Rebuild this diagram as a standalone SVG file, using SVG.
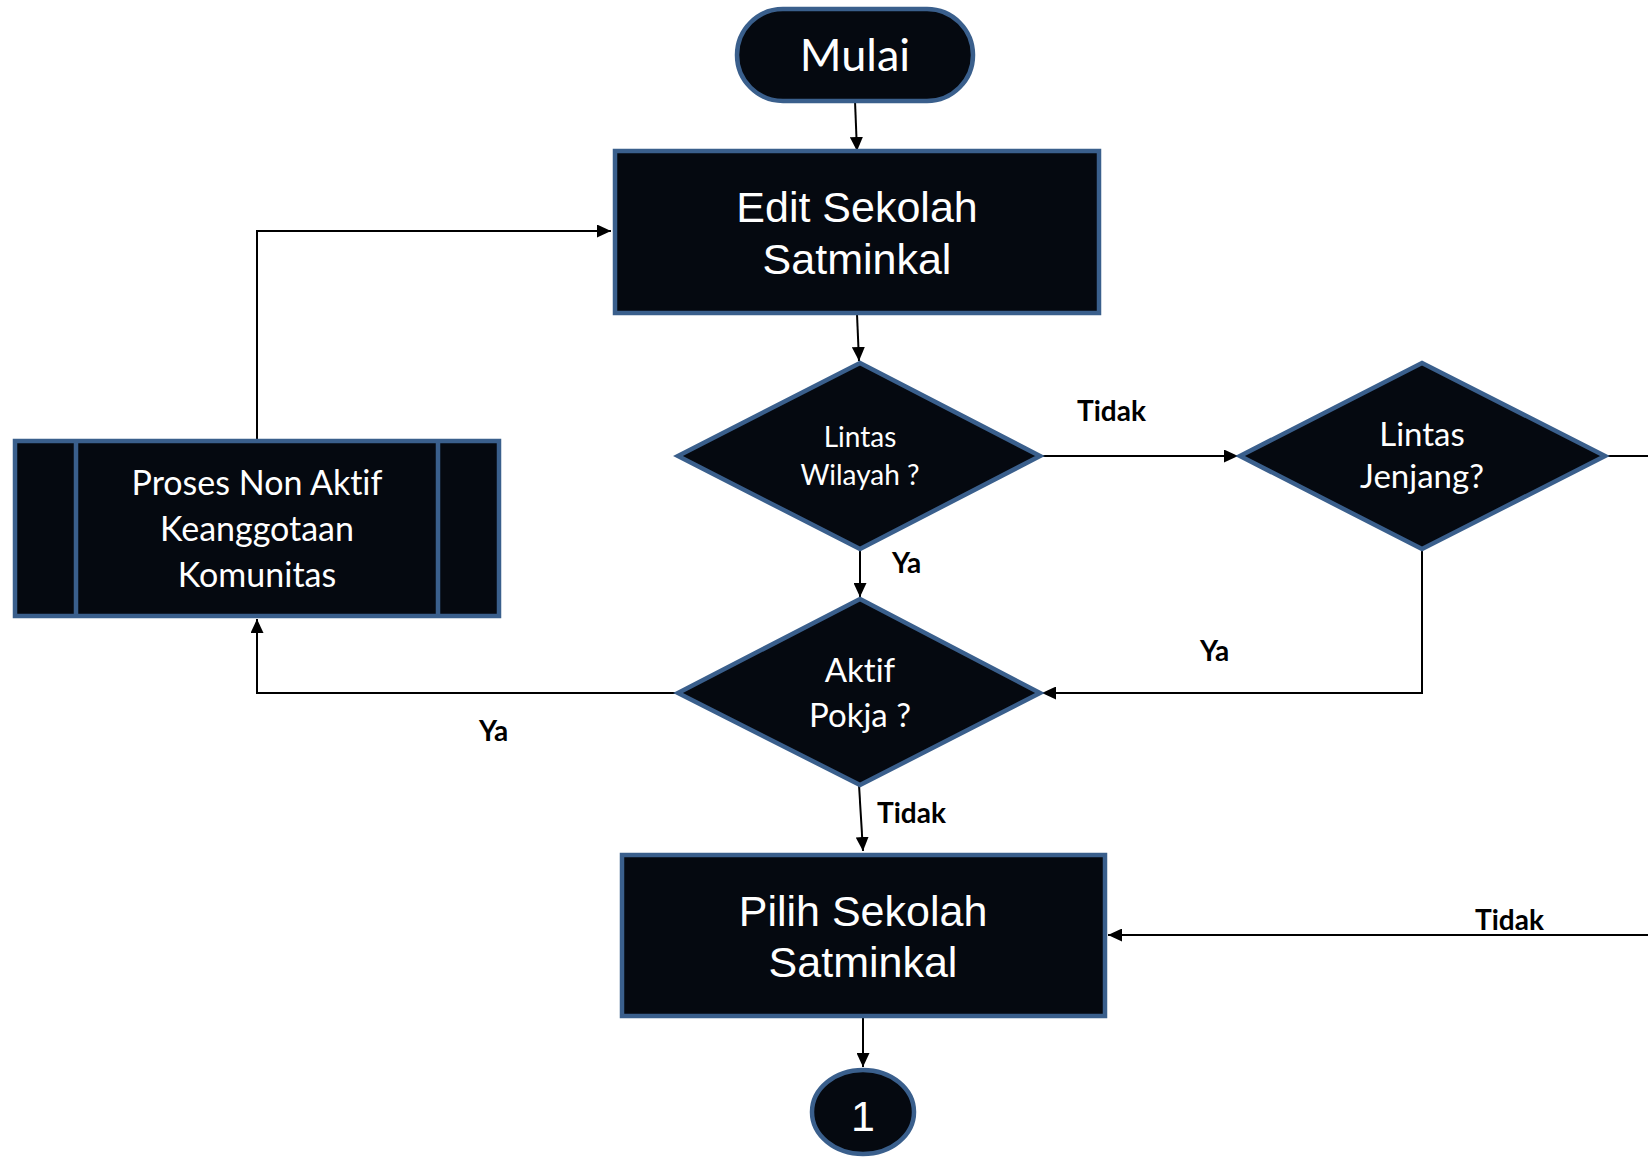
<svg xmlns="http://www.w3.org/2000/svg" width="1648" height="1157" viewBox="0 0 1648 1157">
<style>
.node{fill:#050910;stroke:#3A5F8C;stroke-width:4.5;stroke-linejoin:miter}
.ta{font-family:"Liberation Sans",Arial,sans-serif;font-size:43px;fill:#fff;text-anchor:middle}
.tc{font-family:Lato,"Noto Sans",sans-serif;fill:#fff;text-anchor:middle;font-variant-ligatures:none}
.lbl{font-family:Lato,"Noto Sans",sans-serif;font-weight:bold;font-size:28px;fill:#000;font-variant-ligatures:none}
.conn{fill:none;stroke:#000;stroke-width:2}
</style>
<defs>
<marker id="arr" markerUnits="userSpaceOnUse" markerWidth="15" markerHeight="13" refX="14" refY="6.5" orient="auto">
<path d="M0,0 L14,6.5 L0,13 z" fill="#000"/>
</marker>
</defs>
<rect width="1648" height="1157" fill="#fff"/>
<g id="connectors">
<path class="conn" d="M855,101 L857,151" marker-end="url(#arr)"/>
<path class="conn" d="M857,314 L859,361" marker-end="url(#arr)"/>
<path class="conn" d="M1040,456 L1238,456" marker-end="url(#arr)"/>
<path class="conn" d="M860,549 L860,597" marker-end="url(#arr)"/>
<path class="conn" d="M1422,549 L1422,693 L1042,693" marker-end="url(#arr)"/>
<path class="conn" d="M1605,456 L1648,456"/>
<path class="conn" d="M1648,935 L1108,935" marker-end="url(#arr)"/>
<path class="conn" d="M678,693 L257,693 L257,619" marker-end="url(#arr)"/>
<path class="conn" d="M257,439 L257,231 L611,231" marker-end="url(#arr)"/>
<path class="conn" d="M859,785 L863,851" marker-end="url(#arr)"/>
<path class="conn" d="M863,1017 L863,1067" marker-end="url(#arr)"/>
<text class="lbl" x="1077" y="421">Tidak</text>
<text class="lbl" x="892" y="573">Ya</text>
<text class="lbl" x="1200" y="661">Ya</text>
<text class="lbl" x="479" y="741">Ya</text>
<text class="lbl" x="877" y="823">Tidak</text>
<text class="lbl" x="1475" y="930">Tidak</text>
</g>
<g id="mulai">
<rect class="node" x="737" y="9" width="236" height="92" rx="46" ry="46"/>
<text class="tc" x="855" y="71" font-size="45">Mulai</text>
</g>
<g id="edit-sekolah">
<rect class="node" x="615" y="151" width="484" height="162"/>
<text class="ta" x="857" y="222">Edit Sekolah</text>
<text class="ta" x="857" y="274">Satminkal</text>
</g>
<g id="lintas-wilayah">
<polygon class="node" points="860,363 1040,456 860,549 678,456"/>
<text class="tc" x="860" y="447" font-size="28">Lintas</text>
<text class="tc" x="860" y="485" font-size="28">Wilayah ?</text>
</g>
<g id="lintas-jenjang">
<polygon class="node" points="1422,363 1605,456 1422,549 1240,456"/>
<text class="tc" x="1422" y="446" font-size="33">Lintas</text>
<text class="tc" x="1422" y="488" font-size="33">Jenjang?</text>
</g>
<g id="proses-non-aktif">
<rect class="node" x="15" y="441" width="484" height="175"/>
<line class="node" x1="76" y1="441" x2="76" y2="616"/>
<line class="node" x1="438" y1="441" x2="438" y2="616"/>
<text class="tc" x="257" y="495" font-size="34">Proses Non Aktif</text>
<text class="tc" x="257" y="541" font-size="34">Keanggotaan</text>
<text class="tc" x="257" y="587" font-size="34">Komunitas</text>
</g>
<g id="aktif-pokja">
<polygon class="node" points="860,599 1040,693 860,785 678,693"/>
<text class="tc" x="860" y="682" font-size="33">Aktif</text>
<text class="tc" x="860" y="727" font-size="33">Pokja ?</text>
</g>
<g id="pilih-sekolah">
<rect class="node" x="622" y="855" width="483" height="161"/>
<text class="ta" x="863" y="926">Pilih Sekolah</text>
<text class="ta" x="863" y="977">Satminkal</text>
</g>
<g id="connector-1">
<ellipse class="node" cx="863" cy="1112" rx="51" ry="42"/>
<text class="ta" x="863" y="1131" font-size="43">1</text>
</g>
</svg>
